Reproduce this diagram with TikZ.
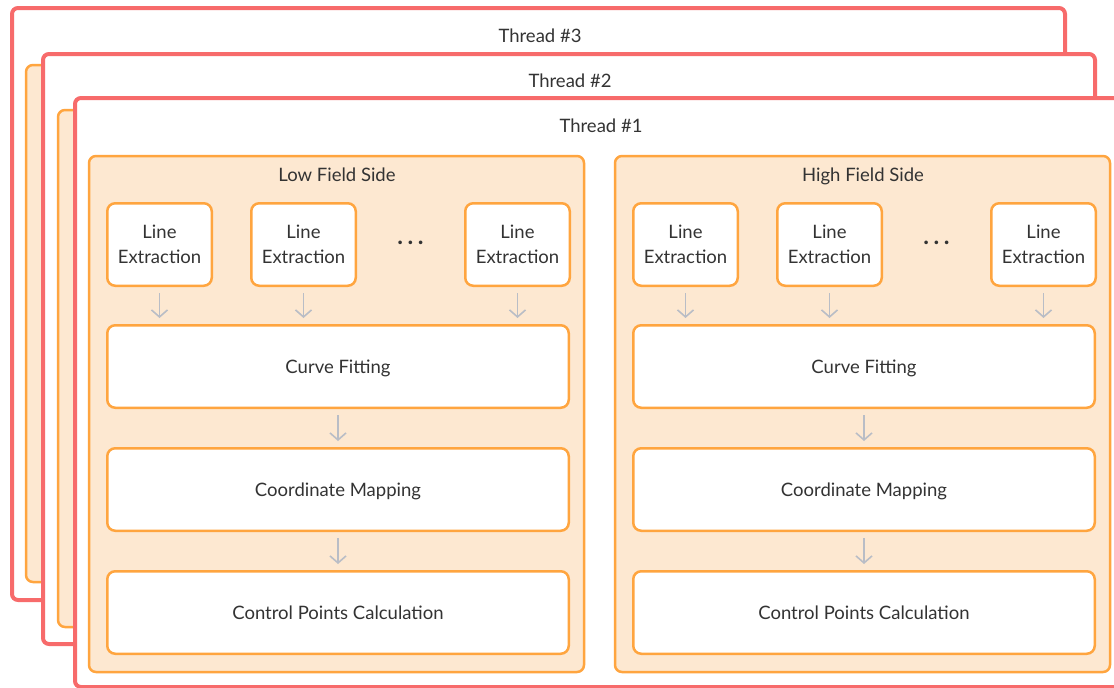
\documentclass[tikz,border=0pt]{standalone}
\usepackage{fontspec}
\setmainfont{Lato}
\usetikzlibrary{arrows.meta,positioning}
\definecolor{threadred}{HTML}{F76B6B}
\definecolor{panelorange}{HTML}{FFA53F}
\definecolor{panelfill}{HTML}{FDE8D1}
\definecolor{arrowgray}{HTML}{B9BDC6}
\definecolor{textgray}{HTML}{333333}
\tikzset{
    myframe/.style={draw=threadred, fill=white, line width=4pt, rounded corners=6pt},
    mypanel/.style={draw=panelorange, fill=panelfill, line width=2.5pt, rounded corners=7pt},
    mybox/.style={rectangle, rounded corners=8pt, draw=panelorange, fill=white, line width=2.5pt, minimum width=104.5pt, minimum height=82.5pt, inner sep=0pt, align=center, text=textgray, font=\fontsize{18.5}{25}\selectfont},
    mywidebox/.style={mybox, minimum width=461.5pt, text height=16pt, text depth=2pt},
    mylabel/.style={text=textgray, font=\fontsize{18.5}{22}\selectfont, text height=16pt, text depth=2pt},
    myarrow/.style={-{Straight Barb[length=7pt,width=16pt]}, draw=arrowgray, line width=1.6pt, shorten >=6pt, shorten <=6pt},
}
\newcommand{\mydots}{{\fontsize{24}{24}\selectfont\bfseries .\kern4.5pt.\kern4.5pt.}}

\begin{document}
\begin{tikzpicture}[x=1pt, y=-1pt]
\useasboundingbox (0,0) rectangle (1114,688);
\clip (0,0) rectangle (1114,688);

% stacked threads, back to front
\draw[myframe] (12,8) rectangle (1065,600);
\node[mylabel] (thread3) at (540,35) {Thread \#3};
\draw[mypanel] (26,65) rectangle (1080,582);

\draw[myframe] (43,54) rectangle (1095,644);
\node[mylabel] (thread2) at (570,80) {Thread \#2};
\draw[mypanel] (58,110) rectangle (1100,627);

\draw[myframe] (75,98) rectangle (1140,687);
\node[mylabel] (thread1) at (601,125) {Thread \#1};

% low field side
\draw[mypanel] (89,156) rectangle (584,672);
\node[mylabel] (lowtitle) at (337,174) {Low Field Side};

\node[mybox, anchor=north west] (lowle1) at (106,202) {Line\\Extraction};
\node[mybox, right=37pt of lowle1] (lowle2) {Line\\Extraction};
\node[mybox, right=107pt of lowle2] (lowle3) {Line\\Extraction};
\path (lowle2.east) -- node[mylabel, yshift=7pt] (lowdots) {\mydots} (lowle3.west);

\node[mywidebox, below=37pt of lowle1.south west, anchor=north west] (lowcf) {Curve Fitting};
\node[mywidebox, below=38pt of lowcf] (lowcm) {Coordinate Mapping};
\node[mywidebox, below=38pt of lowcm] (lowcp) {Control Points Calculation};

\draw[myarrow] (lowle1.south) -- (lowle1.south |- lowcf.north);
\draw[myarrow] (lowle2.south) -- (lowle2.south |- lowcf.north);
\draw[myarrow] (lowle3.south) -- (lowle3.south |- lowcf.north);
\draw[myarrow] (lowcf) -- (lowcm);
\draw[myarrow] (lowcm) -- (lowcp);

% high field side
\draw[mypanel] (615,156) rectangle (1110,672);
\node[mylabel] (hightitle) at (863,174) {High Field Side};

\node[mybox, anchor=north west] (highle1) at (632,202) {Line\\Extraction};
\node[mybox, right=37pt of highle1] (highle2) {Line\\Extraction};
\node[mybox, right=107pt of highle2] (highle3) {Line\\Extraction};
\path (highle2.east) -- node[mylabel, yshift=7pt] (highdots) {\mydots} (highle3.west);

\node[mywidebox, below=37pt of highle1.south west, anchor=north west] (highcf) {Curve Fitting};
\node[mywidebox, below=38pt of highcf] (highcm) {Coordinate Mapping};
\node[mywidebox, below=38pt of highcm] (highcp) {Control Points Calculation};

\draw[myarrow] (highle1.south) -- (highle1.south |- highcf.north);
\draw[myarrow] (highle2.south) -- (highle2.south |- highcf.north);
\draw[myarrow] (highle3.south) -- (highle3.south |- highcf.north);
\draw[myarrow] (highcf) -- (highcm);
\draw[myarrow] (highcm) -- (highcp);
\end{tikzpicture}
\end{document}
